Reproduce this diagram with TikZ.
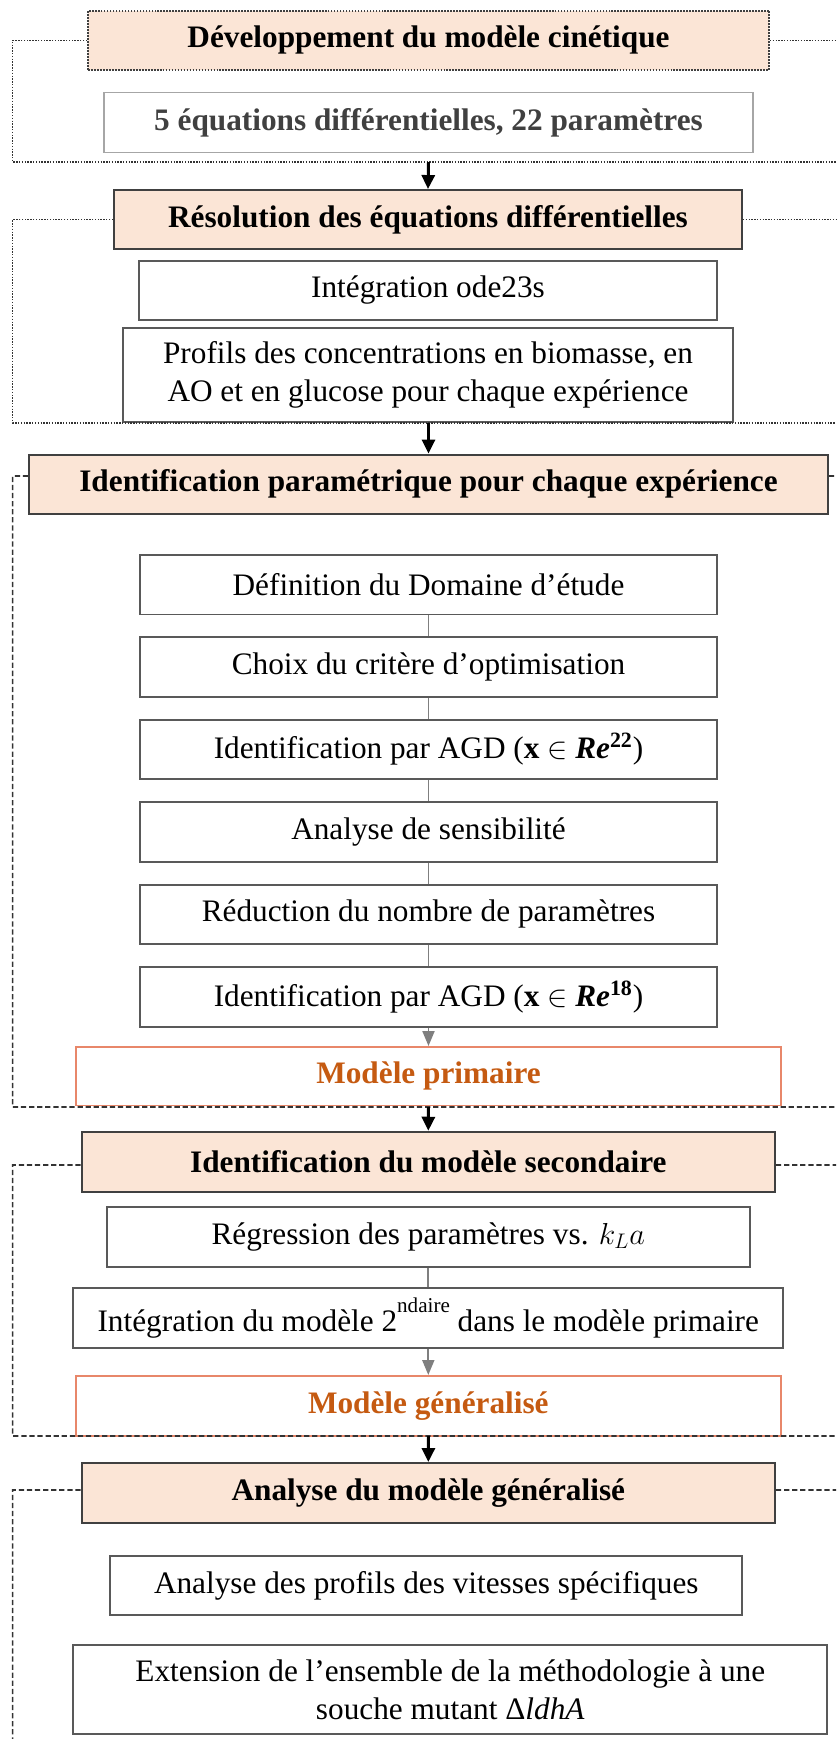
\documentclass[tikz,border=0pt]{standalone}
\usepackage{fontspec}
\setmainfont{Liberation Serif}
\usetikzlibrary{arrows.meta,positioning}
\tikzset{>=Stealth}

\definecolor{headfill}{HTML}{FBE5D6}
\definecolor{headline}{HTML}{404040}
\definecolor{boxline}{HTML}{595959}
\definecolor{lightline}{HTML}{A6A6A6}
\definecolor{darktext}{HTML}{404040}
\definecolor{modline}{HTML}{E8876A}
\definecolor{modtext}{HTML}{C55A11}
\definecolor{linkgray}{HTML}{7F7F7F}
\definecolor{framegray}{HTML}{333333}

\newcommand{\flowfont}{\fontsize{17.8}{21.8}\selectfont}

\begin{document}
\begin{tikzpicture}[
    x=0.02cm, y=-0.02cm,
    node distance=4.2mm,
    font=\flowfont,
    box/.style={draw=boxline, line width=1.1pt, minimum height=1.19cm, align=center, inner sep=2pt},
    head/.style={box, draw=headline, fill=headfill, font=\flowfont\bfseries},
    stepbox/.style={box, minimum width=11.56cm},
    result/.style={box, draw=modline, text=modtext, font=\flowfont\bfseries, minimum width=14.1cm},
    dotline/.style={draw=framegray, line width=0.8pt, dash pattern=on 0.8pt off 0.8pt},
    dashline/.style={draw=framegray, line width=0.9pt, dash pattern=on 3pt off 1.6pt},
    bigarrow/.style={-{Triangle[width=0.26cm,length=0.28cm]}, line width=1.7pt},
    graylink/.style={draw=linkgray, line width=1.1pt},
    grayarrow/.style={graylink, -{Triangle[width=0.24cm,length=0.3cm]}, fill=linkgray}
  ]
    \useasboundingbox (0,0) rectangle (836,1739);

    % modele cinetique
    \node[head, dash pattern=on 1pt off 0.7pt, minimum width=13.62cm] (dev) at (428.5,40.3) {Développement du modèle cinétique};
    \node[box, draw=lightline, text=darktext, font=\flowfont\bfseries, minimum width=12.98cm, minimum height=1.2cm, below=0.41cm of dev] (eqs) {5 équations différentielles, 22 paramètres};

    % resolution
    \node[head, minimum width=12.56cm, minimum height=1.18cm] (res) at (428,219.5) {Résolution des équations différentielles};
    \node[box, minimum width=11.56cm, minimum height=1.18cm, below=0.2cm of res] (ode) {Intégration ode23s};
    \node[box, minimum width=12.22cm, minimum height=1.88cm, below=0.12cm of ode] (prof) {Profils des concentrations en biomasse, en\\AO et en glucose pour chaque expérience};

    % identification parametrique
    \node[head, minimum width=15.98cm] (ident) at (428.5,484.3) {Identification paramétrique pour chaque expérience};
    \node[stepbox, below=0.78cm of ident] (dom) {Définition du Domaine d’étude};
    \node[stepbox, below=of dom] (crit) {Choix du critère d’optimisation};
    \node[stepbox, below=of crit] (agd22) {Identification par AGD (\textbf{x} $\in$ \textbf{\textit{Re}}\textsuperscript{\textbf{22}})};
    \node[stepbox, below=of agd22] (sens) {Analyse de sensibilité};
    \node[stepbox, below=of sens] (red) {Réduction du nombre de paramètres};
    \node[stepbox, below=of red] (agd18) {Identification par AGD (\textbf{x} $\in$ \textbf{\textit{Re}}\textsuperscript{\textbf{18}})};
    \node[result, minimum height=1.17cm, below=0.37cm of agd18] (prim) {Modèle primaire};

    % modele secondaire
    \node[head, minimum width=13.87cm, minimum height=1.2cm] (sec) at (428.3,1161.7) {Identification du modèle secondaire};
    \node[box, minimum width=12.86cm, below=0.27cm of sec] (reg) {Régression des paramètres vs. $k_{L}a$};
    \node[box, minimum width=14.2cm, minimum height=1.2cm, below=0.39cm of reg] (integ) {Intégration du modèle 2\raisebox{0.62em}{\fontsize{12}{12}\selectfont ndaire} dans le modèle primaire};
    \node[result, minimum height=1.2cm, below=0.52cm of integ] (gen) {Modèle généralisé};

    % analyse
    \node[head, minimum width=13.87cm, minimum height=1.2cm] (ana) at (428.3,1493) {Analyse du modèle généralisé};
    \node[box, minimum width=12.64cm, below=0.62cm of ana, xshift=-0.04cm] (vit) {Analyse des profils des vitesses spécifiques};
    \node[box, minimum width=15.08cm, minimum height=1.78cm, below=0.56cm of vit, xshift=0.48cm] (ext) {Extension de l’ensemble de la méthodologie à une\\souche mutant Δ\textit{ldhA}};

    % cadres
    \coordinate (end1) at (428.5,162);
    \coordinate (end2) at (428.5,423);
    \coordinate (end3) at (428.5,1107);
    \coordinate (end4) at (428.5,1436);
    \draw[dotline] (dev.west) -- (12.7,40.3) |- (end1) -- (836,162);
    \draw[dotline] (dev.east) -- (836,40.3);
    \draw[dotline] (res.west) -- (12.7,219.5) |- (end2) -- (836,423);
    \draw[dotline] (res.east) -- (836,219.5);
    \draw[dashline] ([yshift=0.166cm]ident.west) -- (12.7,476) |- (end3) -- (836,1107);
    \draw[dashline] ([yshift=0.166cm]ident.east) -- (836,476);
    \draw[dashline] ([yshift=-0.066cm]sec.west) -- (12.7,1165) |- (end4) -- (836,1436);
    \draw[dashline] ([yshift=-0.066cm]sec.east) -- (836,1165);
    \draw[dashline] ([yshift=0.06cm]ana.west) -- (12.7,1490) -- (12.7,1739);
    \draw[dashline] ([yshift=0.06cm]ana.east) -- (836,1490);

    % fleches
    \draw[bigarrow] (end1) -- (res.north);
    \draw[bigarrow] (end2) -- (ident.north);
    \draw[bigarrow] (end3) -- (sec.north);
    \draw[bigarrow] (end4) -- (ana.north);
    \foreach \a/\b in {dom/crit, crit/agd22, agd22/sens, sens/red, red/agd18}
      \draw[graylink] (\a) -- (\b);
    \draw[grayarrow] (agd18) -- (prim);
    \draw[graylink] (reg) -- (integ);
    \draw[grayarrow] (integ) -- (gen);
\end{tikzpicture}
\end{document}
